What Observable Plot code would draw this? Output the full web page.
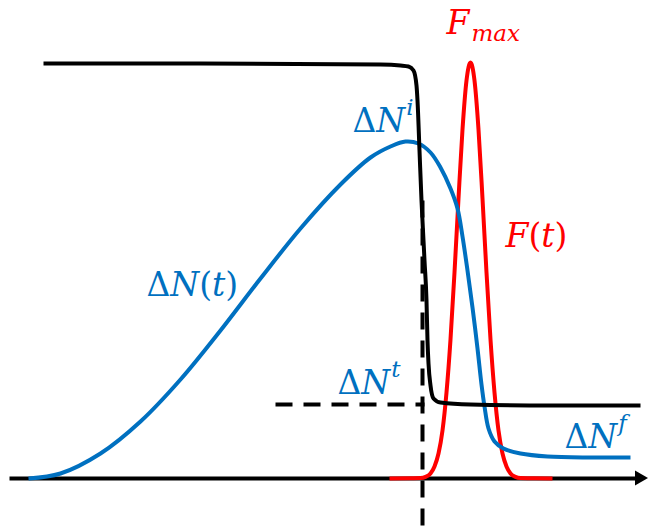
<!DOCTYPE html>
<html>
<head>
<meta charset="utf-8">
<script src="https://cdn.jsdelivr.net/npm/d3@7"></script>
<script src="https://cdn.jsdelivr.net/npm/@observablehq/plot@0.6"></script>
<style>
  html, body { margin: 0; padding: 0; background: #fff; }
  #chart svg { display: block; }
</style>
</head>
<body>
<div id="chart"></div>
<script>
// ---- data (t = time, value above the baseline) ----
const blackT = [43, 200, 380, 400, 408, 413, 416, 417, 419, 421, 423, 424, 426, 427, 428, 430, 433, 440, 470, 550, 640];
const blackN = [415, 415, 414, 413, 412, 408, 393, 378, 328, 278, 238, 218, 178, 138, 115, 93, 80, 76, 74, 73, 73];

const blueT = [28, 60, 100, 140, 180, 220, 260, 300, 340, 370, 390, 405, 418, 430, 440, 450, 457, 462, 467, 472, 477, 481, 484, 488, 494, 503, 520, 547, 590, 630];
const blueN = [0, 5, 25, 57, 99, 148, 200, 250, 294, 321, 332, 337, 335, 326, 311, 290, 270, 242, 208, 171, 130, 94, 72, 50, 37, 30, 25, 22, 21, 21];

const redT = [389, 410, 420, 425, 430, 434, 438, 442, 446, 450, 454, 458, 462, 466, 470, 474, 478, 482, 486, 490, 494, 498, 502, 506, 510, 515, 520, 530, 552];
const redF = [0, 0.3, 0.5, 1.6, 5, 12, 25, 48, 86, 139, 206, 280, 349, 398, 416, 398, 349, 280, 206, 139, 86, 48, 25, 12, 5, 1.6, 0.5, 0.3, 0];

// time axis
const axisT = [9, 636];
const axisN = [0, 0];
const arrowT = [635, 648];
const arrowLo = [-7.5, 0];
const arrowHi = [7.5, 0];

// dashed guides: transition level and transition time
const levelT = [275, 424];
const levelN = [74, 74];
const timeT = [422, 422];
const timeN = [278, -54];

// labels ("^" superscript, "_" subscript)
const labelText = ["F_max", "ΔN^i", "F(t)", "ΔN(t)", "ΔN^t", "ΔN^f"];
const labelT = [446, 352, 505, 146, 337, 564];
const labelN = [445, 347, 232, 183, 85, 31];
const labelColor = ["#ff0000", "#0070c0", "#ff0000", "#0070c0", "#0070c0", "#0070c0"];

// ---- tables built from the arrays ----
const rows = (xs, ys) => xs.map((x, i) => ({x, y: ys[i]}));
const black = rows(blackT, blackN);
const blue = rows(blueT, blueN);
const red = rows(redT, redF);
const axis = rows(axisT, axisN);
const arrow = arrowT.map((x, i) => ({x, y1: arrowLo[i], y2: arrowHi[i]}));
const level = rows(levelT, levelN);
const time = rows(timeT, timeN);
const labels = labelText.map((text, i) => ({text, x: labelT[i], y: labelN[i], color: labelColor[i]}));

const BLUE = "#0070c0", RED = "#ff0000";
const W = 4;

const chart = Plot.plot({
  width: 648,
  height: 532,
  margin: 0,
  x: {domain: [0, 648], axis: null},
  y: {domain: [-54, 478], axis: null},
  style: {background: "#fff", overflow: "visible"},
  marks: [
    Plot.line(axis, {x: "x", y: "y", stroke: "#000", strokeWidth: W, strokeLinecap: "butt"}),
    Plot.area(arrow, {x1: "x", y1: "y1", y2: "y2", fill: "#000"}),
    Plot.line(red, {x: "x", y: "y", stroke: RED, strokeWidth: W, curve: "monotone-x", strokeLinecap: "butt"}),
    Plot.line(blue, {x: "x", y: "y", stroke: BLUE, strokeWidth: W, curve: "catmull-rom", strokeLinecap: "butt"}),
    Plot.line(black, {x: "x", y: "y", stroke: "#000", strokeWidth: W, curve: "monotone-x", strokeLinecap: "butt"}),
    Plot.line(level, {x: "x", y: "y", stroke: "#000", strokeWidth: W, strokeDasharray: "17,11", strokeLinecap: "butt"}),
    Plot.line(time, {x: "x", y: "y", stroke: "#000", strokeWidth: W, strokeDasharray: "17,11", strokeLinecap: "butt"}),
    Plot.text(labels, {
      x: "x", y: "y", text: "text", fill: "color",
      textAnchor: "start", lineAnchor: "bottom",
      fontSize: 33, fontFamily: "DejaVu Serif"
    })
  ]
});

// turn the "^"/"_" label notation into real sub/superscript tspans
d3.select(chart).selectAll("text").each(function () {
  const s = this.textContent;
  const m = s.match(/^([^\^_]*)(?:([\^_])(.*))?$/);
  if (!m) return;
  const [, base, mode, script] = m;
  const el = d3.select(this);
  el.text(null);
  for (const ch of base) {
    el.append("tspan")
      .attr("font-style", /[A-Za-z]/.test(ch) ? "italic" : "normal")
      .text(ch);
  }
  if (mode) {
    el.append("tspan")
      .attr("font-style", "italic")
      .attr("font-size", 23)
      .attr("dx", mode === "^" ? 1 : 2)
      .attr("dy", mode === "^" ? -17 : 7)
      .text(script);
  }
});

document.getElementById("chart").append(chart);
</script>
</body>
</html>
